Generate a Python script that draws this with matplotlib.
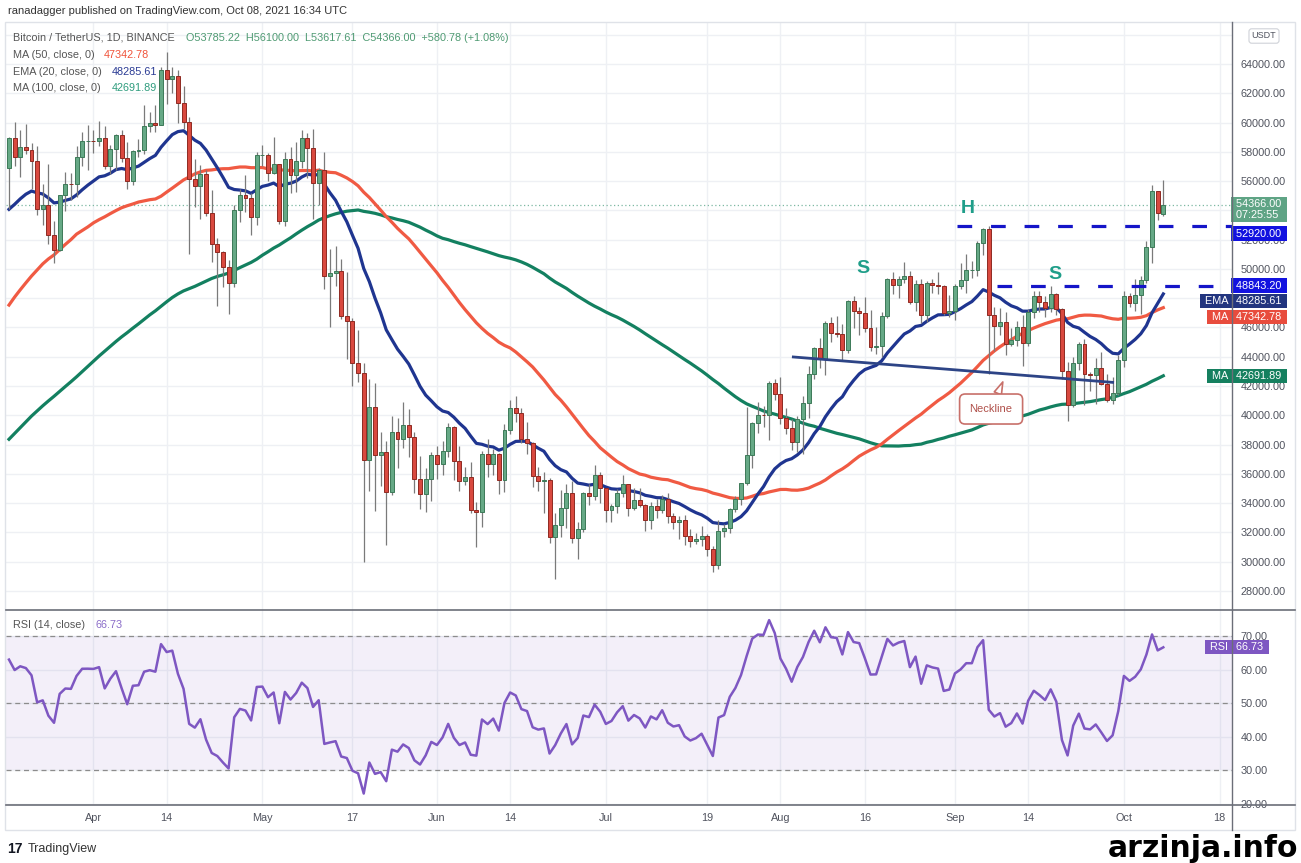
import numpy as np
import pandas as pd
import matplotlib
matplotlib.use("Agg")
import matplotlib.pyplot as plt
import matplotlib.dates as mdates
import matplotlib.transforms as mtransforms

plt.rcParams['font.family'] = ['Liberation Sans', 'DejaVu Sans']

# -------------------------------
# Data (BTC/USDT daily, thousands of USDT)
# -------------------------------
# closes before the visible range (2020-12-07 .. 2021-03-16), only used for MA / EMA / RSI
hist_close = [
    19.17, 18.32, 18.54, 18.25, 18.04, 18.81, 19.18, 19.27, 19.43, 21.38, 22.85, 23.14, 23.87,
    23.48, 22.80, 23.78, 23.24, 23.74, 24.67, 26.44, 26.28, 27.04, 27.36, 28.84, 29.00,
    29.37, 32.13, 32.78, 31.97, 33.99, 36.82, 39.37, 40.80, 40.25, 38.36, 35.57, 33.92, 37.32,
    39.19, 36.83, 36.18, 35.79, 36.63, 36.07, 35.55, 30.83, 33.01, 32.07, 32.29, 32.37, 32.57,
    30.43, 33.47, 34.32, 34.27, 33.12,
    33.55, 35.51, 37.47, 36.93, 38.29, 39.25, 38.87, 46.41, 46.44, 44.84, 47.99, 47.38, 47.24,
    48.72, 47.94, 49.14, 52.11, 51.55, 55.91, 55.84, 57.41, 54.09, 48.89, 49.68, 47.12, 46.14,
    46.11, 45.14,
    49.59, 48.44, 50.35, 48.38, 48.76, 48.87, 50.97, 52.38, 54.88, 55.85, 57.77, 57.22, 61.19,
    58.97, 55.61, 56.90,
]

start_date = "2021-03-17"

opens = [
    # Mar 17-31
    56.90, 58.91, 57.65, 58.33, 58.13, 57.35, 54.08, 54.34, 52.30, 51.29, 55.03, 55.82, 55.78, 57.63, 58.73,
    # Apr
    58.74, 58.72, 58.95, 57.06, 58.20, 59.12, 57.60, 56.00, 58.08, 58.14, 59.77, 59.96, 59.84, 63.58, 62.96,
    63.16, 61.34, 60.01, 56.15, 55.66, 56.47, 53.80, 51.70, 51.19, 50.10, 49.06, 54.02, 55.03, 54.82, 53.56,
    # May
    57.75, 57.80, 56.58, 57.17, 53.24, 57.48, 56.43, 57.38, 58.93, 58.28, 55.86, 56.75, 49.50, 49.69, 49.84,
    46.76, 46.43, 43.54, 42.91, 36.96, 40.60, 37.30, 37.52, 34.74, 38.85, 38.35, 39.32, 38.53, 35.66, 34.61, 35.68,
    # Jun
    37.30, 36.69, 37.57, 39.19, 36.85, 35.52, 35.80, 33.55, 33.38, 37.39, 36.68, 37.33, 35.55, 39.02, 40.52,
    40.14, 38.35, 38.09, 35.82, 35.48, 35.60, 31.68, 32.51, 33.68, 34.66, 31.59, 32.24, 34.70, 34.49, 35.91,
    # Jul
    35.05, 33.50, 33.80, 34.67, 35.29, 33.69, 34.22, 33.86, 32.88, 33.81, 33.52, 34.26, 33.09, 32.73, 32.82,
    31.78, 31.39, 31.53, 31.78, 30.84, 29.79, 32.11, 32.28, 33.59, 34.29, 35.38, 37.27, 39.46, 40.03, 40.01, 42.21,
    # Aug
    41.46, 39.85, 39.15, 38.21, 39.72, 40.87, 42.84, 44.61, 43.83, 46.29, 45.60, 45.55, 44.43, 47.83, 47.10,
    47.02, 45.94, 44.69, 44.71, 46.76, 49.34, 48.87, 49.29, 49.51, 47.71, 48.99, 46.84, 49.07, 48.90, 48.81, 46.99,
    # Sep
    47.13, 48.81, 49.25, 49.94, 49.94, 51.79, 52.70, 46.86, 46.07, 46.40, 44.85, 45.17, 46.03, 44.96, 47.09,
    48.14, 47.75, 47.30, 48.31, 47.26, 43.01, 40.69, 43.56, 44.88, 42.84, 42.72, 43.21, 42.17, 41.03, 41.52,
    # Oct 1-8
    43.79, 48.17, 47.64, 48.20, 49.22, 51.47, 55.32, 53.785,
]

highs = [
    58.98, 60.04, 59.47, 59.88, 58.59, 58.43, 55.83, 57.20, 53.24, 55.08, 56.64, 56.56, 58.40, 59.37, 59.80,
    59.46, 60.11, 59.79, 58.49, 59.25, 59.48, 58.66, 58.15, 58.89, 61.22, 60.69, 61.20, 63.77, 64.85, 63.80,
    63.59, 62.50, 60.41, 57.52, 57.08, 56.76, 55.41, 52.13, 51.25, 50.59, 54.36, 55.47, 56.43, 55.20, 57.96,
    58.45, 57.94, 58.98, 57.20, 57.97, 58.36, 58.65, 59.50, 59.30, 59.59, 56.90, 58.00, 51.37, 51.56, 50.70,
    49.80, 46.64, 45.80, 43.55, 42.45, 42.20, 38.85, 38.25, 39.92, 39.80, 40.90, 40.41, 38.88, 37.24, 36.40, 37.47,
    37.90, 38.23, 39.48, 39.29, 37.92, 36.49, 36.79, 34.07, 37.53, 38.40, 37.69, 37.44, 39.38, 41.06, 41.33,
    40.53, 39.56, 38.20, 36.46, 36.13, 35.75, 33.30, 34.88, 35.30, 35.49, 32.70, 34.75, 35.30, 36.60, 36.10,
    35.06, 33.94, 34.95, 35.94, 35.29, 35.06, 35.06, 33.92, 34.10, 34.26, 34.59, 34.68, 33.34, 33.11, 33.19,
    32.25, 31.95, 32.44, 31.90, 31.04, 32.86, 32.58, 33.65, 34.50, 35.40, 40.55, 39.54, 40.90, 40.64, 42.32, 42.45,
    42.60, 40.47, 39.78, 39.97, 41.35, 43.39, 44.70, 45.31, 46.45, 46.69, 46.78, 46.22, 47.89, 48.14, 47.37,
    48.05, 47.16, 46.00, 47.05, 49.38, 49.82, 49.50, 50.50, 49.88, 49.27, 49.34, 49.17, 49.31, 49.76, 48.91, 48.25,
    48.96, 50.40, 51.05, 50.56, 51.90, 52.80, 52.92, 47.38, 47.34, 47.03, 45.99, 46.46, 46.88, 47.25, 48.47,
    48.49, 48.16, 48.81, 48.37, 47.33, 43.64, 44.00, 44.98, 45.20, 42.97, 43.92, 44.35, 42.79, 42.59, 44.13,
    48.50, 48.34, 49.30, 49.53, 51.89, 55.75, 55.34, 56.10,
]

lows = [
    54.12, 57.02, 56.27, 57.82, 55.45, 53.65, 53.00, 51.70, 50.43, 51.25, 53.96, 54.69, 54.90, 57.02, 56.77,
    57.93, 58.43, 56.84, 56.48, 56.79, 57.33, 55.47, 55.70, 57.65, 57.88, 59.35, 59.37, 59.84, 61.30, 62.02,
    60.00, 59.58, 51.00, 54.22, 53.42, 53.60, 50.50, 47.50, 48.75, 46.93, 48.79, 53.22, 53.88, 52.33, 53.01,
    57.05, 56.04, 56.48, 53.05, 52.90, 55.20, 55.24, 56.92, 56.24, 53.40, 54.37, 48.60, 46.00, 48.82, 46.55,
    43.83, 42.00, 42.25, 30.00, 34.85, 33.49, 35.20, 31.11, 34.55, 36.42, 37.80, 37.17, 34.68, 33.63, 33.38, 34.15,
    35.67, 35.92, 37.17, 35.56, 34.80, 35.26, 33.34, 31.00, 32.40, 35.79, 35.94, 34.60, 34.76, 38.73, 39.51,
    38.12, 37.37, 35.13, 34.83, 33.35, 31.25, 28.81, 31.68, 32.29, 31.27, 30.15, 32.00, 33.86, 34.23, 34.02,
    32.71, 32.70, 33.31, 34.39, 33.13, 33.53, 33.77, 32.08, 32.26, 33.00, 33.32, 32.66, 32.20, 31.55, 31.13,
    31.02, 31.18, 31.08, 30.41, 29.28, 29.48, 31.71, 31.95, 33.40, 33.88, 35.21, 36.38, 38.77, 39.20, 38.32, 41.06,
    39.42, 38.69, 37.64, 37.51, 37.33, 39.85, 42.45, 43.26, 42.78, 44.98, 45.35, 43.77, 44.24, 45.97, 45.52,
    45.66, 44.38, 44.20, 43.95, 46.64, 48.29, 48.00, 49.02, 47.60, 47.12, 46.32, 46.36, 48.37, 48.28, 46.87, 46.69,
    46.51, 48.62, 48.35, 49.41, 49.50, 50.95, 42.84, 44.41, 45.52, 44.13, 44.73, 44.74, 43.37, 44.75, 46.68,
    47.03, 46.75, 47.05, 46.85, 42.50, 39.60, 40.57, 43.09, 40.68, 41.65, 40.76, 42.10, 40.89, 40.75, 41.41,
    43.28, 47.43, 47.12, 46.89, 49.06, 50.38, 53.36, 53.618,
]

closes = [
    58.91, 57.65, 58.33, 58.13, 57.35, 54.08, 54.34, 52.30, 51.29, 55.03, 55.82, 55.78, 57.63, 58.73, 58.74,
    58.72, 58.95, 57.06, 58.20, 59.12, 57.60, 56.00, 58.08, 58.14, 59.77, 59.96, 59.84, 63.58, 62.96, 63.16,
    61.34, 60.01, 56.15, 55.66, 56.47, 53.80, 51.70, 51.19, 50.10, 49.06, 54.02, 55.03, 54.82, 53.56, 57.75,
    57.80, 56.58, 57.17, 53.24, 57.48, 56.43, 57.38, 58.93, 58.28, 55.86, 56.75, 49.50, 49.69, 49.84, 46.76,
    46.43, 43.54, 42.91, 36.96, 40.60, 37.30, 37.52, 34.74, 38.85, 38.35, 39.32, 38.53, 35.66, 34.61, 35.68, 37.30,
    36.69, 37.57, 39.19, 36.85, 35.52, 35.80, 33.55, 33.38, 37.39, 36.68, 37.33, 35.55, 39.02, 40.52, 40.14,
    38.35, 38.09, 35.82, 35.48, 35.60, 31.68, 32.51, 33.68, 34.66, 31.59, 32.24, 34.70, 34.49, 35.91, 35.05,
    33.50, 33.80, 34.67, 35.29, 33.69, 34.22, 33.86, 32.88, 33.81, 33.52, 34.26, 33.09, 32.73, 32.82, 31.78,
    31.39, 31.53, 31.78, 30.84, 29.79, 32.11, 32.28, 33.59, 34.29, 35.38, 37.27, 39.46, 40.03, 40.01, 42.21, 41.46,
    39.85, 39.15, 38.21, 39.72, 40.87, 42.84, 44.61, 43.83, 46.29, 45.60, 45.55, 44.43, 47.83, 47.10, 47.02,
    45.94, 44.69, 44.71, 46.76, 49.34, 48.87, 49.29, 49.51, 47.71, 48.99, 46.84, 49.07, 48.90, 48.81, 46.99, 47.13,
    48.81, 49.25, 49.94, 49.94, 51.79, 52.70, 46.86, 46.07, 46.40, 44.85, 45.17, 46.03, 44.96, 47.09, 48.14,
    47.75, 47.30, 48.31, 47.26, 43.01, 40.69, 43.56, 44.88, 42.84, 42.72, 43.21, 42.17, 41.03, 41.52, 43.79,
    48.17, 47.64, 48.20, 49.22, 51.47, 55.32, 53.79, 54.366,
]

# drawings on the chart
resistance_levels = [52920.00, 48843.20]
resistance_from = ["2021-09-01 10:00", "2021-09-08 12:00"]
neck_dates = ["2021-08-03 07:00", "2021-09-29 00:00"]
neck_prices = [43985, 42250]
hs_labels = ["S", "H", "S"]
hs_dates = ["2021-08-15 17:00", "2021-09-03 08:00", "2021-09-18 19:00"]
hs_prices = [50060, 54160, 49590]

# legend values shown by TradingView
ma50_last, ema20_last, ma100_last, rsi_last = "47342.78", "48285.61", "42691.89", "66.73"
last_close = 54366.00

tick_dates = ["2021-04-01", "2021-04-14", "2021-05-01", "2021-05-17", "2021-06-01", "2021-06-14",
              "2021-07-01", "2021-07-19", "2021-08-01", "2021-08-16", "2021-09-01", "2021-09-14",
              "2021-10-01", "2021-10-18"]
tick_labels = ["Apr", "14", "May", "17", "Jun", "14", "Jul", "19", "Aug", "16", "Sep", "14", "Oct", "18"]

# price labels that sit fully behind the tags on the price scale
hidden_price_labels = [66000, 54000, 48000]

# -------------------------------
# Indicators
# -------------------------------
o = np.array(opens) * 1000
h = np.array(highs) * 1000
l = np.array(lows) * 1000
c = np.array(closes) * 1000

all_close = pd.Series(np.array(hist_close + closes) * 1000)
ma50 = all_close.rolling(50).mean().values
ma100 = all_close.rolling(100).mean().values
ema20 = all_close.ewm(span=20, adjust=False).mean().values
delta = all_close.diff()
gain = delta.clip(lower=0).ewm(alpha=1 / 14, adjust=False).mean()
loss = (-delta.clip(upper=0)).ewm(alpha=1 / 14, adjust=False).mean()
rsi = (100 - 100 / (1 + gain / loss)).values
nh = len(hist_close)

dates = pd.date_range(start_date, periods=len(closes), freq="D")
x = mdates.date2num(dates)
x0 = mdates.date2num(pd.Timestamp(start_date))

# -------------------------------
# Figure layout (pixels of a 1301x863 canvas)
# -------------------------------
W, H = 1301, 863
def fx(px):
    return px / W
def fy(py):
    return 1 - py / H

L, R = 6, 1232
def axx(px):
    return (px - L) / (R - L)

fig = plt.figure(figsize=(13.01, 8.63), dpi=100)
fig.patch.set_facecolor("white")

ax = fig.add_axes([fx(L), fy(610), fx(R) - fx(L), fy(23) - fy(610)])
axr = fig.add_axes([fx(L), fy(805), fx(R) - fx(L), fy(610) - fy(805)], sharex=ax)

frame_c = "#dfe2e8"
dark_c = "#6b6e78"
fig.add_artist(plt.Rectangle((fx(5), fy(830)), fx(1295) - fx(5), fy(22) - fy(830),
                             transform=fig.transFigure, fill=False, ec=frame_c, lw=1))
fig.add_artist(plt.Line2D([fx(R), fx(R)], [fy(22), fy(830)], transform=fig.transFigure, color=dark_c, lw=1))
for yy in (610, 805):
    fig.add_artist(plt.Line2D([fx(L), fx(1295)], [fy(yy), fy(yy)], transform=fig.transFigure, color=dark_c, lw=1.2))

xmin, xmax = x0 - 0.53, x0 + 217.2
ax.set_xlim(xmin, xmax)
ax.set_ylim(26700, 66800)
axr.set_ylim(19.6, 77.8)

tick_x = mdates.date2num(pd.to_datetime(tick_dates))
grid_c = "#eef0f4"
for a in (ax, axr):
    a.set_facecolor("white")
    for s in a.spines.values():
        s.set_visible(False)
    a.set_xticks(tick_x)
    a.grid(True, color=grid_c, lw=1, zorder=0)
    a.set_axisbelow(True)
    a.yaxis.tick_right()
    a.tick_params(axis="y", length=0, pad=6, labelsize=7.8, labelcolor="#50535e")

ax.tick_params(axis="x", length=0, labelbottom=False)
axr.set_xticklabels(tick_labels)
axr.tick_params(axis="x", length=0, pad=6, labelsize=7.8, labelcolor="#50535e")

yt = np.arange(28000, 66001, 2000)
ax.set_yticks(yt)
ax.set_yticklabels(["" if v in hidden_price_labels else f"{v:.2f}" for v in yt])
rt = [20, 30, 40, 50, 60, 70]
axr.set_yticks(rt)
axr.set_yticklabels([f"{v:.2f}" for v in rt])

# -------------------------------
# Price panel
# -------------------------------
ax.axhline(last_close, color="#7db8a2", lw=0.9, ls=(0, (1, 2)), zorder=1)

ax.plot(x, ma100[nh:], color="#138060", lw=2.3, zorder=2)
ax.plot(x, ma50[nh:], color="#f05a43", lw=2.3, zorder=2)
ax.plot(x, ema20[nh:], color="#1f3590", lw=2.3, zorder=2)

up = c >= o
ax.vlines(x, l, h, color="#7a7a7a", lw=0.9, zorder=3)
ax.bar(x[up], (c - o)[up], bottom=o[up], width=0.7, color="#66a986", edgecolor="#3d7a58", lw=0.7, zorder=4)
ax.bar(x[~up], (c - o)[~up], bottom=o[~up], width=0.7, color="#d9493f", edgecolor="#8f2a22", lw=0.7, zorder=4)

for lev, frm in zip(resistance_levels, resistance_from):
    ax.hlines(lev, mdates.date2num(pd.Timestamp(frm)), xmax, color="#1515c8", lw=2.3,
              linestyles=(0, (4.6, 5.9)), zorder=6)

nx = mdates.date2num(pd.to_datetime(neck_dates))
ax.plot(nx, neck_prices, color="#2d4486", lw=2, zorder=6)

for t, d, p in zip(hs_labels, hs_dates, hs_prices):
    ax.text(mdates.date2num(pd.Timestamp(d)), p, t, color="#1f9e89", fontsize=14, fontweight="bold",
            ha="center", va="center", zorder=7)

ax.annotate("Neckline", xy=(mdates.date2num(pd.Timestamp("2021-09-09 12:00")), 42280),
            xytext=(mdates.date2num(pd.Timestamp("2021-09-07 10:00")), 40430),
            ha="center", va="center", fontsize=8, color="#b0504a", zorder=8,
            bbox=dict(boxstyle="round,pad=0.9,rounding_size=0.5", fc="white", ec="#c8706a", lw=1.2),
            arrowprops=dict(arrowstyle="wedge,tail_width=0.7", fc="white", ec="#c8706a", lw=1.2,
                            relpos=(0.55, 1.0), shrinkA=0, shrinkB=0))

# price scale tags
tr = mtransforms.blended_transform_factory(ax.transAxes, ax.transData)
def tag(a, trans, value, text, fc, dy=0, left=None):
    a.annotate(text, xy=(axx(1233), value), xycoords=trans, xytext=(0, dy), textcoords="offset points",
               ha="left", va="center", fontsize=7.8, color="white", zorder=20, annotation_clip=False,
               bbox=dict(boxstyle="square,pad=0.22", fc=fc, ec="none"))
    if left:
        a.annotate(left, xy=(axx(1231), value), xycoords=trans, xytext=(0, dy), textcoords="offset points",
                   ha="right", va="center", fontsize=7.8, color="white", zorder=20, annotation_clip=False,
                   bbox=dict(boxstyle="square,pad=0.22", fc=fc, ec="none"))

ax.annotate(" 54366.00 \n 07:25:55 ", xy=(axx(1233), last_close), xycoords=tr, xytext=(0, 4),
            textcoords="offset points", ha="left", va="top", fontsize=7.8, color="white", zorder=20,
            linespacing=1.05, annotation_clip=False, bbox=dict(boxstyle="square,pad=0.22", fc="#5fa485", ec="none"))
tag(ax, tr, resistance_levels[0], " 52920.00 ", "#1212e0", dy=-5.3)
tag(ax, tr, resistance_levels[1], " 48843.20 ", "#1212e0")
tag(ax, tr, float(ema20_last), " 48285.61 ", "#22357f", dy=-5.0, left=" EMA ")
tag(ax, tr, float(ma50_last), " 47342.78 ", "#e84c3d", dy=-6.6, left=" MA ")
tag(ax, tr, float(ma100_last), " 42691.89 ", "#15805f", left=" MA ")

fig.text(fx(1264), fy(36), "USDT", fontsize=6.5, color="#50535e", ha="center", va="center", zorder=30,
         bbox=dict(boxstyle="round,pad=0.3,rounding_size=0.3", fc="white", ec="#cfd2d8", lw=0.8))

# -------------------------------
# RSI panel
# -------------------------------
axr.axhspan(30, 70, color="#7e57c2", alpha=0.09, lw=0, zorder=1)
for v in (30, 50, 70):
    axr.axhline(v, color="#8c8c8c", lw=0.9, ls=(0, (4, 3)), zorder=2)
axr.plot(x, rsi[nh:], color="#7e57c2", lw=1.8, zorder=3)
trr = mtransforms.blended_transform_factory(axr.transAxes, axr.transData)
tag(axr, trr, float(rsi_last), " " + rsi_last + " ", "#7e57c2", left=" RSI ")

# -------------------------------
# Texts
# -------------------------------
fig.text(fx(8), fy(11), "ranadagger published on TradingView.com, Oct 08, 2021 16:34 UTC",
         fontsize=8, color="#333333", va="center")
fig.text(fx(13), fy(38), "Bitcoin / TetherUS, 1D, BINANCE", fontsize=7.8, color="#555555", va="center")
fig.text(fx(186), fy(38), "O53785.22  H56100.00  L53617.61  C54366.00  +580.78 (+1.08%)",
         fontsize=7.8, color="#4e9a72", va="center")
fig.text(fx(13), fy(55), "MA (50, close, 0)", fontsize=7.8, color="#555555", va="center")
fig.text(fx(104), fy(55), ma50_last, fontsize=7.8, color="#f0533a", va="center")
fig.text(fx(13), fy(72), "EMA (20, close, 0)", fontsize=7.8, color="#555555", va="center")
fig.text(fx(112), fy(72), ema20_last, fontsize=7.8, color="#2a3b94", va="center")
fig.text(fx(13), fy(88), "MA (100, close, 0)", fontsize=7.8, color="#555555", va="center")
fig.text(fx(112), fy(88), ma100_last, fontsize=7.8, color="#2e9c7d", va="center")
fig.text(fx(13), fy(625), "RSI (14, close)", fontsize=7.8, color="#555555", va="center")
fig.text(fx(96), fy(625), rsi_last, fontsize=7.8, color="#8a6cc8", va="center")

fig.text(fx(7), fy(849), "17", fontsize=10, fontweight="bold", color="#131722", va="center")
fig.text(fx(28), fy(849), "TradingView", fontsize=9, color="#333333", va="center")
fig.text(fx(1298), fy(857), "arzinja.info", fontsize=21.5, fontweight="bold", color="black",
         ha="right", va="baseline", family="DejaVu Sans")

fig.savefig("out.png", dpi=100, facecolor="white")
